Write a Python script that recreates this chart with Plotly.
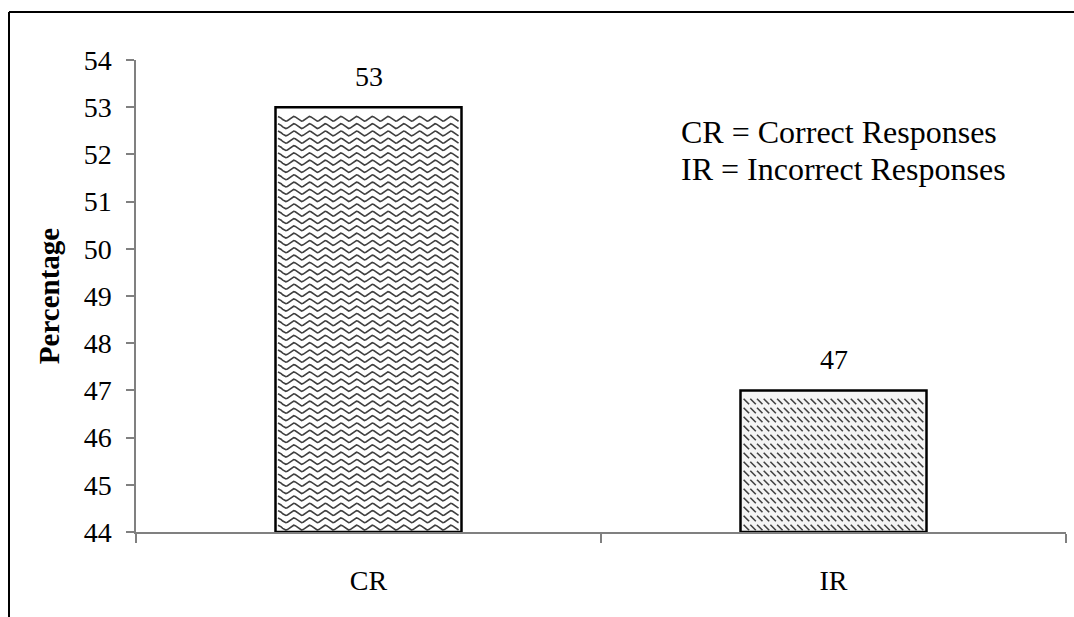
import numpy as np
import plotly.graph_objects as go

# Data
categories = ["CR", "IR"]
percentages = [53, 47]
y_ticks = list(range(44, 55))
key_lines = ["CR = Correct Responses", "IR = Incorrect Responses"]

FONT = "Liberation Serif, Times New Roman, serif"
AXIS_COLOR = "#808080"
TEXTURE_COLOR = "#404040"
BAR_WIDTH = 0.4
Y_MIN, Y_MAX = y_ticks[0], y_ticks[-1]

W, H = 1074, 617
M_L, M_R, M_T, M_B = 136, 8, 60, 85
PLOT_W = W - M_L - M_R
PLOT_H = H - M_T - M_B

xpos = list(range(len(categories)))
x_units_per_px = (len(categories)) / PLOT_W
y_units_per_px = (Y_MAX - Y_MIN) / PLOT_H

fig = go.Figure()

# Bars (white fill, thick black outline), starting at the axis floor
fig.add_trace(go.Bar(
    x=xpos,
    y=[v - Y_MIN for v in percentages],
    base=Y_MIN,
    width=BAR_WIDTH,
    marker=dict(color=["#ffffff", "#f4f4f4"],
                line=dict(color="#000000", width=2.5)),
    hoverinfo="skip",
    showlegend=False,
))

inset_x = 2.5 * x_units_per_px


def wave_fill(xc, top):
    """Wavy hatching rows inside the bar centred at xc, from Y_MIN to top."""
    left = xc - BAR_WIDTH / 2 + inset_x
    right = xc + BAR_WIDTH / 2 - inset_x
    period = 15.7 * x_units_per_px
    amp = 2.4 * y_units_per_px
    step = 7.3 * y_units_per_px
    xs_all, ys_all = [], []
    xs = np.arange(left, right, period / 10)
    y0 = Y_MIN + step * 0.6
    while y0 < top - amp - 2.5 * y_units_per_px:
        ys = y0 + amp * np.cos(2 * np.pi * (xs - left) / period)
        xs_all += list(xs) + [None]
        ys_all += list(ys) + [None]
        y0 += step
    return xs_all, ys_all


def dash_fill(xc, top):
    """Rows of short back-slash dashes inside the bar centred at xc."""
    left = xc - BAR_WIDTH / 2 + inset_x
    right = xc + BAR_WIDTH / 2 - inset_x
    dx = 6.7 * x_units_per_px
    dy = 9.0 * y_units_per_px
    xs, ys = [], []
    y0 = Y_MIN + dy * 0.5
    while y0 < top - 3.5 * y_units_per_px:
        x0 = left + dx * 0.5
        while x0 < right - 2 * x_units_per_px:
            xs.append(x0)
            ys.append(y0)
            x0 += dx
        y0 += dy
    return xs, ys


wx, wy = wave_fill(xpos[0], percentages[0])
fig.add_trace(go.Scatter(
    x=wx, y=wy, mode="lines",
    line=dict(color=TEXTURE_COLOR, width=1.6),
    hoverinfo="skip", showlegend=False,
))

dx_, dy_ = dash_fill(xpos[1], percentages[1])
fig.add_trace(go.Scatter(
    x=dx_, y=dy_, mode="markers",
    marker=dict(symbol="line-nw", size=5.5,
                line=dict(color=TEXTURE_COLOR, width=1.6)),
    hoverinfo="skip", showlegend=False,
))

annotations = []
# Value labels above each bar
for xi, v in zip(xpos, percentages):
    annotations.append(dict(
        x=xi, y=v, xref="x", yref="y", text=str(v), showarrow=False,
        yanchor="bottom", yshift=13,
        font=dict(family=FONT, size=28, color="#000000"),
    ))

# Abbreviation key
for i, line in enumerate(key_lines):
    annotations.append(dict(
        x=(679 - M_L) / PLOT_W, y=(M_T + PLOT_H - (132 + 37 * i)) / PLOT_H,
        xref="paper", yref="paper", text=line, showarrow=False,
        xanchor="left", yanchor="middle",
        font=dict(family=FONT, size=32, color="#000000"),
    ))

# Outer frame (top and left edges visible)
fx = (9 - M_L) / PLOT_W
fy = (M_T + PLOT_H - 12) / PLOT_H
shapes = [
    dict(type="line", xref="paper", yref="paper", x0=fx, x1=(W + 5 - M_L) / PLOT_W,
         y0=fy, y1=fy, line=dict(color="#000000", width=2)),
    dict(type="line", xref="paper", yref="paper", x0=fx, x1=fx,
         y0=fy, y1=-(M_B + 5) / PLOT_H, line=dict(color="#000000", width=2)),
]

boundaries = [i - 0.5 for i in range(len(categories) + 1)]

fig.update_layout(
    width=W, height=H,
    margin=dict(l=M_L, r=M_R, t=M_T, b=M_B),
    paper_bgcolor="#ffffff", plot_bgcolor="#ffffff",
    barmode="overlay",
    font=dict(family=FONT, size=28, color="#000000"),
    annotations=annotations,
    shapes=shapes,
    xaxis=dict(
        range=[boundaries[0], boundaries[-1]],
        tickmode="array", tickvals=xpos, ticktext=categories,
        ticks="", showgrid=False, zeroline=False,
        showline=True, linecolor=AXIS_COLOR, linewidth=1.5,
        tickfont=dict(family=FONT, size=28, color="#000000"),
        ticklabelstandoff=23,
        minor=dict(tickmode="array", tickvals=boundaries, ticks="outside",
                   ticklen=9, tickwidth=1.5, tickcolor=AXIS_COLOR, showgrid=False),
    ),
    yaxis=dict(
        range=[Y_MIN, Y_MAX],
        tickmode="array", tickvals=y_ticks,
        ticks="outside", ticklen=8, tickwidth=1.5, tickcolor=AXIS_COLOR,
        showgrid=False, zeroline=False,
        showline=True, linecolor=AXIS_COLOR, linewidth=1.5,
        tickfont=dict(family=FONT, size=28, color="#000000"),
        ticklabelstandoff=9,
        title=dict(text="<b>Percentage</b>", standoff=16,
                   font=dict(family=FONT, size=29, color="#000000")),
    ),
)

fig.write_html("out.html")
